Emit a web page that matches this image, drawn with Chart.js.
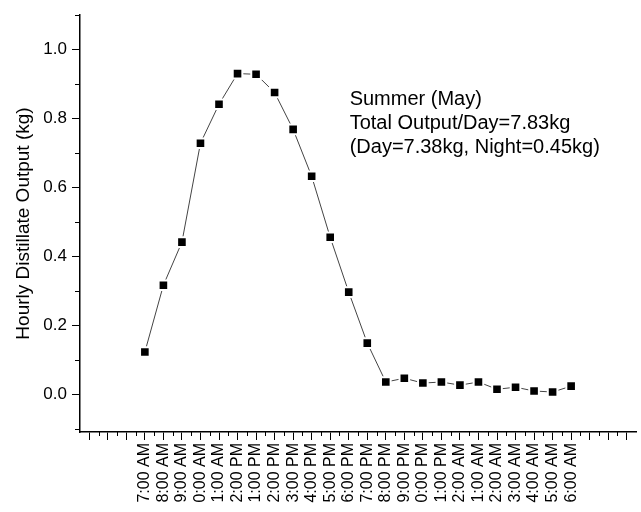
<!DOCTYPE html>
<html>
<head>
<meta charset="utf-8">
<script src="https://cdn.jsdelivr.net/npm/chart.js@4.4.0/dist/chart.umd.min.js"></script>
<style>
html, body { margin: 0; padding: 0; background: #fff; }
</style>
</head>
<body>
<canvas id="distillateChart" width="641" height="512"></canvas>
<script>
// Hourly distillate output - Summer (May)
const hourLabels = ['7:00 AM', '8:00 AM', '9:00 AM', '0:00 AM', '1:00 AM', '2:00 PM', '1:00 PM', '2:00 PM',
    '3:00 PM', '4:00 PM', '5:00 PM', '6:00 PM', '7:00 PM', '8:00 PM', '9:00 PM', '0:00 PM', '1:00 PM',
    '2:00 AM', '1:00 AM', '2:00 AM', '3:00 AM', '4:00 AM', '5:00 AM', '6:00 AM'];
const outputKg = [0.122, 0.316, 0.441, 0.728, 0.841, 0.930, 0.928, 0.875, 0.768, 0.632, 0.455, 0.296,
    0.148, 0.035, 0.046, 0.032, 0.035, 0.026, 0.035, 0.014, 0.020, 0.009, 0.006, 0.023];
const yTickValues = [0, 0.2, 0.4, 0.6, 0.8, 1.0];
const noteLines = ['Summer (May)', 'Total Output/Day=7.83kg', '(Day=7.38kg, Night=0.45kg)'];

const FONT = '"Liberation Sans", Arial, sans-serif';

// minor ticks + the text note
const extrasPlugin = {
    id: 'extras',
    afterDraw: (chart) => {
        const ctx = chart.ctx;
        const xs = chart.scales.x;
        const ys = chart.scales.y;
        ctx.save();
        ctx.strokeStyle = '#000';
        ctx.lineWidth = 1;
        ctx.beginPath();
        for (let i = -2.5; i <= 25.5; i += 1) {
            const px = Math.round(xs.getPixelForValue(i)) + 0.5;
            ctx.moveTo(px, xs.top);
            ctx.lineTo(px, xs.top + 4);
        }
        for (let k = -1; k <= 11; k += 2) {
            const py = Math.round(ys.getPixelForValue(k / 10)) + 0.5;
            ctx.moveTo(ys.right, py);
            ctx.lineTo(ys.right - 5, py);
        }
        ctx.stroke();

        ctx.font = '20px ' + FONT;
        ctx.fillStyle = '#000';
        ctx.textAlign = 'left';
        ctx.textBaseline = 'middle';
        const x0 = xs.getPixelForValue(11.05);
        const y0 = ys.getPixelForValue(0.855);
        noteLines.forEach((line, i) => {
            ctx.fillText(line, x0, y0 + i * 24);
        });
        ctx.restore();
    }
};

var ctx = document.getElementById('distillateChart').getContext('2d');
var distillateChart = new Chart(ctx, {
    type: 'line',
    data: {
        datasets: [{
            data: outputKg.map((v, i) => ({ x: i, y: v })),
            borderColor: '#444',
            borderWidth: 1,
            tension: 0,
            fill: false,
            pointStyle: 'rect',
            pointRadius: 6.8,
            pointBackgroundColor: '#000',
            pointBorderColor: '#fff',
            pointBorderWidth: 2
        }]
    },
    options: {
        responsive: false,
        animation: false,
        layout: {
            autoPadding: false,
            padding: { top: 15, right: 5, left: 0, bottom: 0 }
        },
        scales: {
            x: {
                type: 'linear',
                min: -3.5,
                max: 26.5,
                afterBuildTicks: (scale) => {
                    const t = [];
                    for (let i = -3; i <= 26; i++) t.push({ value: i });
                    scale.ticks = t;
                },
                afterFit: (scale) => {
                    scale.height = 80;
                    scale.paddingLeft = 0;
                    scale.paddingRight = 0;
                },
                border: { display: true, color: '#000', width: 1.5 },
                grid: { drawOnChartArea: false, drawTicks: true, tickLength: 8, tickColor: '#000', tickWidth: 1 },
                ticks: {
                    autoSkip: false,
                    minRotation: 90,
                    maxRotation: 90,
                    padding: 3,
                    color: '#000',
                    font: { family: FONT, size: 16 },
                    callback: (value) => hourLabels[value] !== undefined ? hourLabels[value] : ''
                }
            },
            y: {
                min: -0.11,
                max: 1.1,
                afterBuildTicks: (scale) => {
                    scale.ticks = yTickValues.map(v => ({ value: v }));
                },
                afterFit: (scale) => {
                    scale.width = 80;
                    scale.paddingTop = 0;
                    scale.paddingBottom = 0;
                },
                border: { display: true, color: '#000', width: 1.5 },
                grid: { drawOnChartArea: false, drawTicks: true, tickLength: 8, tickColor: '#000', tickWidth: 1 },
                ticks: {
                    autoSkip: false,
                    padding: 5,
                    color: '#000',
                    font: { family: FONT, size: 17 },
                    callback: (value) => value.toFixed(1)
                },
                title: {
                    display: true,
                    text: 'Hourly Distillate Output (kg)',
                    color: '#000',
                    padding: { top: 12, bottom: 0 },
                    font: { family: FONT, size: 19 }
                }
            }
        },
        plugins: {
            legend: { display: false },
            tooltip: { enabled: false }
        }
    },
    plugins: [extrasPlugin]
});
</script>
</body>
</html>
